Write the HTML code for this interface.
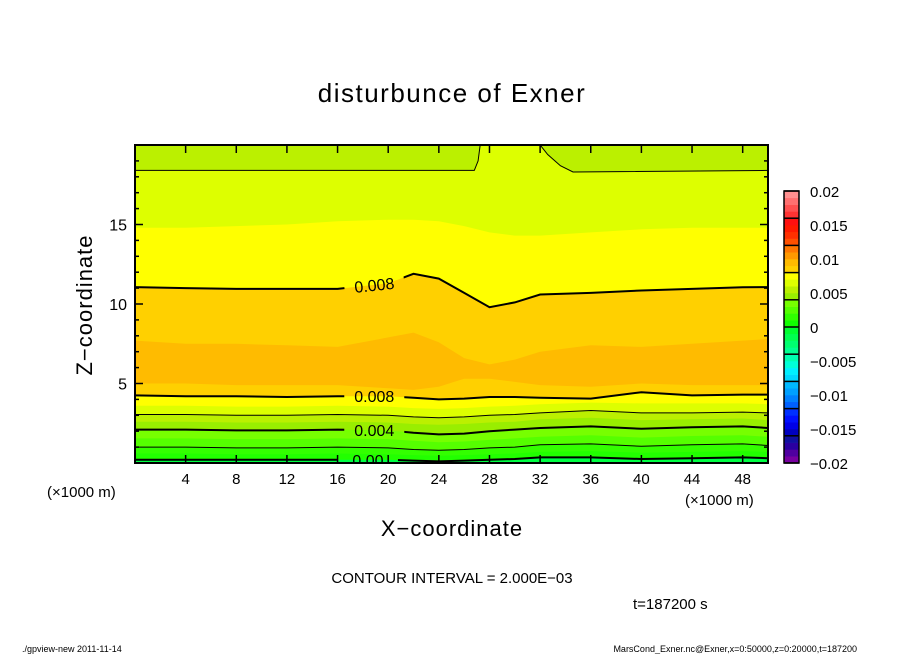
<!DOCTYPE html>
<html><head><meta charset="utf-8"><style>
html,body{margin:0;padding:0;background:#fff}
svg{display:block;font-family:"Liberation Sans",sans-serif}
</style></head><body>
<svg id="chart" width="904" height="654" viewBox="0 0 904 654">
<rect width="904" height="654" fill="#fff"/>
<text x="452" y="102" text-anchor="middle" font-size="26" letter-spacing="1.5">disturbunce of Exner</text>
<g id="plot"></g>
<g id="axes"></g>
<g id="cbar"></g>
<text x="452" y="536" text-anchor="middle" font-size="22" letter-spacing="1">X−coordinate</text>
<text transform="translate(92,305) rotate(-90)" text-anchor="middle" font-size="22" letter-spacing="1">Z−coordinate</text>
<text x="47" y="497" font-size="15">(×1000 m)</text>
<text x="685" y="505" font-size="15">(×1000 m)</text>
<text x="452" y="583" text-anchor="middle" font-size="15">CONTOUR INTERVAL = 2.000E−03</text>
<text x="633" y="609" font-size="15">t=187200 s</text>
<text x="22" y="652" font-size="9">./gpview-new  2011-11-14</text>
<text x="857" y="652" text-anchor="end" font-size="9">MarsCond_Exner.nc@Exner,x=0:50000,z=0:20000,t=187200</text>
</svg>
<script>
const NS="http://www.w3.org/2000/svg";
const gridX=[0,4,8,12,16,20,22,24,26,28,30,32,36,40,44,48,50];
const b1X=[0,26.8,27.1,27.3,31.8,32.6,33.6,34.6,50];
const b1=[18.4,18.4,19.0,20.2,20.2,19.4,18.7,18.3,18.4];
const b2=[14.8,14.8,14.9,15.0,15.2,15.3,15.3,15.2,14.9,14.5,14.3,14.3,14.5,14.7,14.8,14.8,14.8];
const b3=[11.06,11.0,10.95,10.95,10.95,11.3,11.9,11.6,10.7,9.8,10.1,10.6,10.7,10.85,10.95,11.05,11.06];
const b4=[7.7,7.5,7.5,7.4,7.3,7.9,8.2,7.6,6.6,6.2,6.5,7.0,7.4,7.3,7.5,7.7,7.8];
const b5=[5.0,5.0,4.9,4.9,4.9,4.7,4.6,4.8,5.3,5.3,5.1,4.9,4.8,5.0,4.9,4.9,4.9];
const b6=[4.25,4.2,4.2,4.15,4.2,4.2,4.1,4.0,4.05,4.15,4.15,4.1,4.05,4.45,4.25,4.3,4.3];
const L7=[3.6,3.6,3.55,3.55,3.6,3.55,3.45,3.4,3.45,3.55,3.6,3.7,3.8,3.75,3.75,3.75,3.7];
const L6=[3.05,3.05,3.0,3.0,3.05,3.0,2.9,2.85,2.9,3.0,3.05,3.15,3.3,3.15,3.15,3.2,3.15];
const L5=[2.6,2.6,2.55,2.55,2.6,2.55,2.45,2.4,2.45,2.55,2.6,2.75,2.85,2.7,2.75,2.8,2.7];
const L4=[2.1,2.1,2.05,2.05,2.1,2.05,1.9,1.8,1.85,2.0,2.1,2.2,2.3,2.15,2.25,2.3,2.2];
const L3=[1.55,1.55,1.5,1.5,1.55,1.5,1.4,1.3,1.35,1.45,1.55,1.65,1.75,1.6,1.7,1.75,1.65];
const L2=[1.0,1.0,0.95,0.95,1.0,0.95,0.85,0.8,0.85,0.95,1.0,1.15,1.2,1.05,1.15,1.2,1.1];
const L1=[0.6,0.6,0.55,0.55,0.6,0.55,0.5,0.45,0.5,0.55,0.6,0.7,0.75,0.65,0.7,0.75,0.7];
const L0=[0.2,0.2,0.2,0.2,0.2,0.2,0.15,0.1,0.15,0.2,0.25,0.35,0.35,0.25,0.3,0.35,0.3];
const xTicks=[4,8,12,16,20,24,28,32,36,40,44,48];
const yTicks=[5,10,15];
const cbarLabels=["0.02","0.015","0.01","0.005","0","−0.005","−0.01","−0.015","−0.02"];
const cbarColors=["#7800a0","#5000a0","#2a00a0","#1010a0","#0000c0","#0000e8","#0010ff","#0030ff","#0060ff","#0080ff","#00a0ff","#00b8ff","#00d8ff","#00f0ff","#00ffd8","#00ffb0","#00ff90","#00ff70","#00ff50","#00ff30","#10ff00","#30ff00","#55ff00","#77ff00","#99ee00","#bbf000","#ddff00","#ffff00","#ffd000","#ffbb00","#ff9900","#ff7700","#ff5000","#ff3000","#ff1a00","#ff1010","#ff3333","#ff5050","#ff7070","#ff9090"];

const X0=135,X1=768,Y0=463,Y1=145;
const sx=v=>X0+(X1-X0)*v/50;
const sy=v=>Y0-(Y0-Y1)*v/20;
function mk(tag,attrs,parent){const e=document.createElementNS(NS,tag);for(const k in attrs)e.setAttribute(k,attrs[k]);parent.appendChild(e);return e;}
const plot=document.getElementById('plot');
const defs=mk('defs',{},plot);
const cp=mk('clipPath',{id:'clip'},defs);mk('rect',{x:X0,y:Y1,width:X1-X0,height:Y0-Y1},cp);
const mask=mk('mask',{id:'lblmask'},defs);
mk('rect',{x:0,y:0,width:904,height:654,fill:'#fff'},mask);
const g=mk('g',{'clip-path':'url(#clip)'},plot);
const bg=mk('rect',{x:X0,y:Y1,width:X1-X0,height:Y0-Y1,fill:'#bbf000'},g);


function pts(arr,xs){xs=xs||gridX;return arr.map((z,i)=>sx(xs[i]).toFixed(1)+','+sy(z).toFixed(1)).join(' ');}
const layers=[[b1,'#ddff00','band-0.006',b1X],[b2,'#ffff00','band-0.007'],[b3,'#ffd000','band-0.008'],[b4,'#ffbb00','band-0.009'],[b5,'#ffd000','band-lower-0.009'],[b6,'#ffff00','band-lower-0.008'],[L7,'#ddff00','band-lower-0.007'],[L6,'#bbf000','band-lower-0.006'],[L5,'#99ee00','band-lower-0.005'],[L4,'#77ff00','band-lower-0.004'],[L3,'#55ff00','band-lower-0.003'],[L2,'#33ff00','band-lower-0.002'],[L1,'#22ff00','band-lower-0.001'],[L0,'#00ff44','band-lower-0.000']];
layers.forEach(([a,c,n,xs])=>{
  const p=mk('polygon',{points:pts(a,xs)+' '+sx(50)+','+(Y0+5)+' '+sx(0)+','+(Y0+5),fill:c},g);
  
  
});
const lines=[[b1,1,'contour-0.006-upper',b1X],[b3,2,'contour-0.008-upper'],[b6,2,'contour-0.008-lower'],[L6,1,'contour-0.006-lower'],[L4,2,'contour-0.004'],[L2,1,'contour-0.002'],[L0,2,'contour-0.000']];
const lg=mk('g',{mask:'url(#lblmask)'},g);
lines.forEach(([a,w,n,xs])=>{
  const l=mk('polyline',{points:pts(a,xs),fill:'none',stroke:'#000','stroke-width':w},lg);
  
  
});
const labels=[[b3,"0.008",18.9,-6],[b6,"0.008",18.9,0],[L4,"0.004",18.9,0],[L0,"0.00",18.4,0]];
labels.forEach(([a,t,xv,rot])=>{
  let i=0;while(gridX[i+1]<xv)i++;
  const f=(xv-gridX[i])/(gridX[i+1]-gridX[i]);
  const z=a[i]+(a[i+1]-a[i])*f;
  const cx=sx(xv),cy=sy(z);
  mk('rect',{x:cx-30,y:cy-9,width:60,height:18,fill:'#000',transform:`rotate(${rot},${cx},${cy})`},mask);
  const tx=mk('text',{x:cx,y:cy+6,'text-anchor':'middle','font-size':16,transform:`rotate(${rot},${cx},${cy})`},g);
  tx.textContent=t;
  
  
});
const ax=document.getElementById('axes');
const fr=mk('rect',{x:X0,y:Y1,width:X1-X0,height:Y0-Y1,fill:'none',stroke:'#000','stroke-width':2},ax);


xTicks.forEach(v=>{
  const x=sx(v);
  mk('line',{x1:x,y1:Y0,x2:x,y2:Y0-8,stroke:'#000','stroke-width':1.5},ax);
  mk('line',{x1:x,y1:Y1,x2:x,y2:Y1+8,stroke:'#000','stroke-width':1.5},ax);
  const t=mk('text',{x:x,y:484,'text-anchor':'middle','font-size':15},ax);
  t.textContent=v;
  
  
});
for(let v=1;v<20;v++){
  const y=sy(v),L=(v%5===0)?8:4;
  mk('line',{x1:X0,y1:y,x2:X0+L,y2:y,stroke:'#000','stroke-width':1.5},ax);
  mk('line',{x1:X1,y1:y,x2:X1-L,y2:y,stroke:'#000','stroke-width':1.5},ax);
}
yTicks.forEach(v=>{
  const t=mk('text',{x:127,y:sy(v)+6,'text-anchor':'end','font-size':16},ax);
  t.textContent=v;
  
  
});
const cb=document.getElementById('cbar');
const CX=784,CW=15,CT=191,CB=463,n=cbarColors.length,h=(CB-CT)/n;
cbarColors.forEach((c,i)=>{
  const r=mk('rect',{x:CX,y:CB-(i+1)*h,width:CW,height:h+0.3,fill:c},cb);
  
  
});
for(let k=0;k<=10;k++){const y=CT+(CB-CT)*k/10;mk('line',{x1:CX,y1:y,x2:CX+CW,y2:y,stroke:'#000','stroke-width':1.5},cb);}
mk('rect',{x:CX,y:CT,width:CW,height:CB-CT,fill:'none',stroke:'#000','stroke-width':1.5},cb);
cbarLabels.forEach((s,i)=>{
  const t=mk('text',{x:810,y:CT+(CB-CT)*i/8+6,'font-size':15},cb);
  t.textContent=s;
  
  
});
</script>
</body></html>
